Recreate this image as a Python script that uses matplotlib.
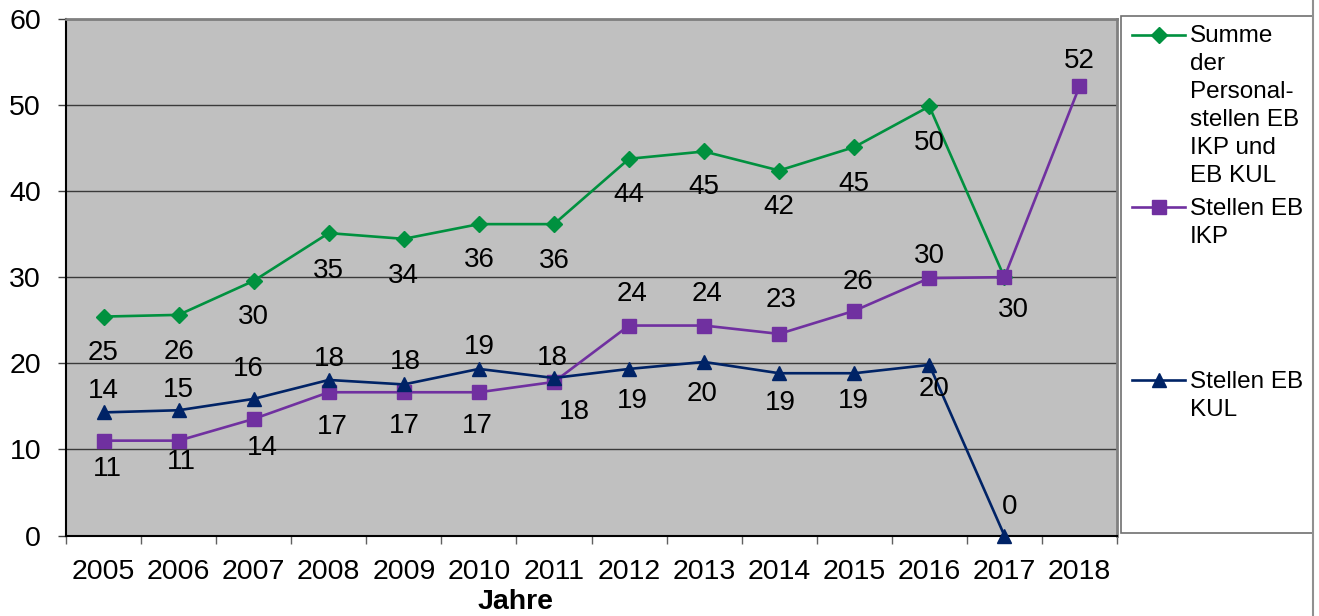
import matplotlib
matplotlib.use("Agg")
import matplotlib.pyplot as plt
from matplotlib.lines import Line2D
from matplotlib.patches import Rectangle
import numpy as np

plt.rcParams['font.family'] = ['Liberation Sans', 'DejaVu Sans']

# ---- data -------------------------------------------------------------
years = ['2005', '2006', '2007', '2008', '2009', '2010', '2011',
         '2012', '2013', '2014', '2015', '2016', '2017', '2018']

summe = [25.43, 25.63, 29.58, 35.13, 34.46, 36.17, 36.17,
         43.76, 44.61, 42.40, 45.12, 49.85, 30.0, np.nan]
stellen_ikp = [11.02, 11.02, 13.54, 16.64, 16.64, 16.64, 17.84,
               24.39, 24.39, 23.42, 26.10, 29.90, 30.01, 52.17]
stellen_kul = [14.30, 14.55, 15.87, 18.07, 17.55, 19.35, 18.30,
               19.35, 20.16, 18.85, 18.85, 19.82, 0.0, np.nan]

series_names = ['Summe\nder\nPersonal-\nstellen EB\nIKP und\nEB KUL',
                'Stellen EB\nIKP',
                'Stellen EB\nKUL']
axis_title = 'Jahre'

# ---- styling ----------------------------------------------------------
colors = ['#00913F', '#7030A0', '#002366']
markers = ['D', 's', '^']
marker_sizes = [7.8, 10.5, 10.5]

# value-label offsets in pixels (dx, dy downward); None = no label
label_offsets = [
    [(0, 36), (0, 37), (0, 36), (0, 38), (0, 37), (0, 36), (0, 37),
     (0, 36), (0, 36), (0, 36), (0, 37), (0, 37), (9, 33), None],
    [(4, 28), (3, 21), (9, 29), (4, 35), (0, 34), (-2, 34), (20, 30),
     (3, -32), (3, -32), (2, -34), (4, -29), (0, -22), None, (0, -25)],
    [(0, -21), (0, -20), (-5, -30), (1, -21), (2, -22), (0, -22), (-2, -20),
     (3, 32), (-2, 32), (1, 30), (-1, 28), (5, 24), (5, -28), None],
]

W, H = 1319, 616
fig = plt.figure(figsize=(W / 100, H / 100), dpi=100)
fig.patch.set_facecolor('white')

left, right, top, bottom = 66, 1117, 19, 535.5
ax = fig.add_axes([left / W, 1 - bottom / H, (right - left) / W, (bottom - top) / H])
ax.set_facecolor('#C0C0C0')

x = np.arange(len(years))
for vals, col, mk, ms, offs in zip([summe, stellen_ikp, stellen_kul],
                                   colors, markers, marker_sizes, label_offsets):
    ax.plot(x, vals, color=col, lw=1.9, marker=mk, markersize=ms,
            markerfacecolor=col, markeredgecolor=col, zorder=3, clip_on=False)
    for xi, v, off in zip(x, vals, offs):
        if off is None or np.isnan(v):
            continue
        ax.annotate(str(int(np.floor(v + 0.5))), (xi, v),
                    xytext=(off[0], -off[1]), textcoords='offset pixels',
                    ha='center', va='center', fontsize=20, color='black',
                    zorder=4, annotation_clip=False)

ax.set_xlim(-0.5, len(years) - 0.5)
ax.set_ylim(0, 60)
ax.set_yticks(np.arange(0, 61, 10))
ax.yaxis.grid(True, color='#3a3a3a', lw=1.0)
ax.set_axisbelow(True)

ax.set_xticks(x)
ax.set_xticklabels(years)
ax.set_xticks(np.arange(-0.5, len(years), 1), minor=True)
ax.tick_params(axis='x', which='major', length=0, pad=17, labelsize=20.5)
ax.tick_params(axis='x', which='minor', length=6, width=1, color='#606060',
               direction='out')
ax.tick_params(axis='y', which='major', length=6, width=1, color='#404040',
               pad=12, labelsize=20.5, direction='out')

for side in ['left', 'bottom']:
    ax.spines[side].set_color('black')
    ax.spines[side].set_linewidth(1.5)
for side in ['top', 'right']:
    ax.spines[side].set_color('#808080')
    ax.spines[side].set_linewidth(2)

fig.text(516 / W, 1 - 602 / H, axis_title, ha='center', va='center',
         fontsize=20.5, fontweight='bold')

# ---- legend and outer frame (pixel coordinates) -----------------------
lax = fig.add_axes([0, 0, 1, 1], zorder=5)
lax.set_xlim(0, W)
lax.set_ylim(H, 0)
lax.axis('off')
lax.patch.set_alpha(0)

lax.add_patch(Rectangle((1121, 16), 1313 - 1121, 533 - 16, facecolor='white',
                        edgecolor='#707070', lw=1.2))
lax.add_line(Line2D([1313, 1313], [0, H], color='#909090', lw=1.5))

entry_y = [34.5, 207, 380]
for name, col, mk, ms, ey in zip(series_names, colors, markers,
                                 marker_sizes, entry_y):
    lax.add_line(Line2D([1132, 1185], [ey, ey], color=col, lw=1.9))
    lax.add_line(Line2D([1158.5], [ey], color=col, marker=mk, markersize=ms,
                        markerfacecolor=col, markeredgecolor=col))
    lax.text(1190, ey - 9, name, ha='left', va='top', fontsize=17.5,
             linespacing=1.35)

fig.savefig('out.png', dpi=100, facecolor='white')
